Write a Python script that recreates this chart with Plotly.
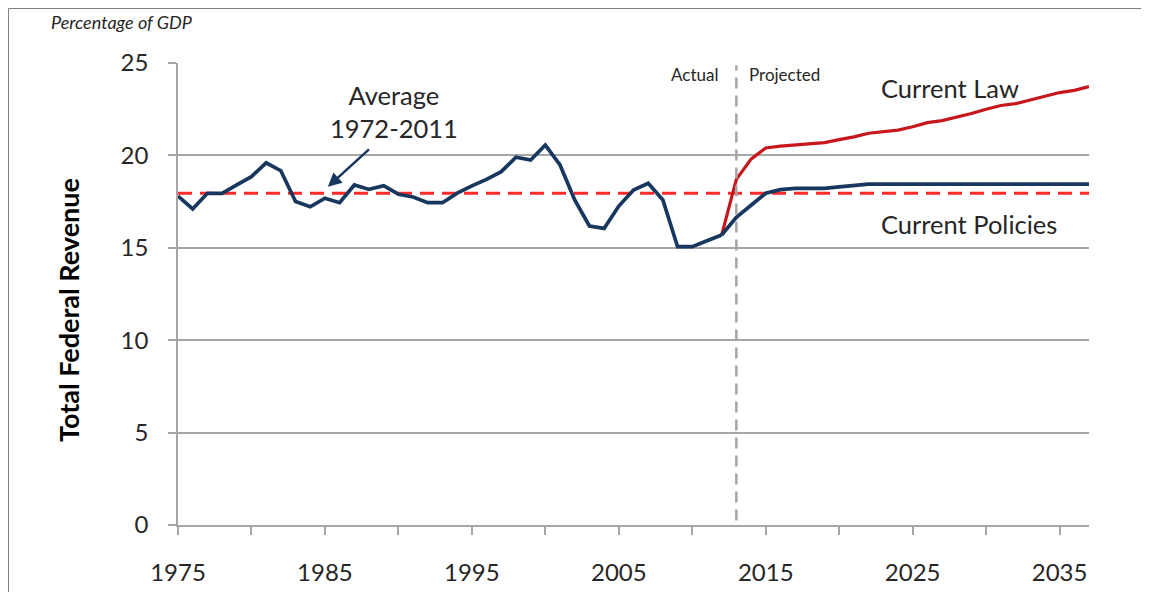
import plotly.graph_objects as go

# ---- data ----
actual_years = list(range(1975, 2013))
actual_vals = [17.8, 17.1, 17.95, 17.95, 18.4, 18.85, 19.6, 19.17, 17.5, 17.22,
               17.68, 17.44, 18.4, 18.16, 18.36, 17.9, 17.75, 17.44, 17.44, 17.96,
               18.35, 18.7, 19.12, 19.9, 19.75, 20.56, 19.48, 17.59, 16.18, 16.05,
               17.26, 18.13, 18.49, 17.59, 15.06, 15.06, 15.38, 15.69]

proj_years = list(range(2012, 2038))
current_law = [15.69, 18.7, 19.8, 20.4, 20.5, 20.56, 20.63, 20.69, 20.85, 21.0,
               21.2, 21.28, 21.37, 21.55, 21.77, 21.88, 22.07, 22.27, 22.5, 22.7,
               22.8, 23.0, 23.2, 23.4, 23.52, 23.72]
current_policies = [15.69, 16.65, 17.3, 17.95, 18.15, 18.22, 18.22, 18.22, 18.3, 18.38,
                    18.45, 18.45, 18.45, 18.45, 18.45, 18.45, 18.45, 18.45, 18.45, 18.45,
                    18.45, 18.45, 18.45, 18.45, 18.45, 18.45]

avg_years = [1975, 2037]
avg_vals = [17.95, 17.95]

x_tickvals = list(range(1975, 2040, 5))
x_ticktext = [str(v) if (v - 1975) % 10 == 0 else "" for v in x_tickvals]
y_tickvals = [0, 5, 10, 15, 20, 25]
split_year = 2013

BLUE = "#17375E"
RED = "#C8161D"
AVG_RED = "#FF2A2A"
GRAY = "#A6A6A6"
TXT = "#262626"
FONT = "Lato, Open Sans, sans-serif"

# layout geometry (figure pixels; page body adds an 8px offset)
W, H = 1141, 584
ML, MR, MT, MB = 170, 60, 55, 67
PW, PH = W - ML - MR, H - MT - MB


def px_x(p):
    return (p - ML) / PW


def px_y(p):
    return 1 - (p - MT) / PH


fig = go.Figure()
fig.add_trace(go.Scatter(x=avg_years, y=avg_vals, mode="lines",
                         line=dict(color=AVG_RED, width=3, dash="14px,8px"),
                         showlegend=False, hoverinfo="skip"))
fig.add_trace(go.Scatter(x=proj_years, y=current_law, mode="lines",
                         line=dict(color=RED, width=3.2), name="Current Law", showlegend=False))
fig.add_trace(go.Scatter(x=proj_years, y=current_policies, mode="lines",
                         line=dict(color=BLUE, width=3.7), name="Current Policies", showlegend=False))
fig.add_trace(go.Scatter(x=actual_years, y=actual_vals, mode="lines",
                         line=dict(color=BLUE, width=3.7), name="Actual", showlegend=False))

# vertical split line
fig.add_shape(type="line", xref="x", yref="paper", x0=split_year, x1=split_year,
              y0=0.01, y1=0.995, line=dict(color=GRAY, width=2.5, dash="11px,7px"))

# outer frame
fig.add_shape(type="rect", xref="paper", yref="paper",
              x0=px_x(0.5), x1=px_x(1135), y0=-0.4, y1=px_y(0.5),
              line=dict(color="#7f7f7f", width=1), fillcolor="rgba(0,0,0,0)", layer="below")

ann = []
ann.append(dict(x=1989.7, y=22.4, xref="x", yref="y", text="Average<br>1972-2011",
                showarrow=False, font=dict(size=25.5, color=TXT, family=FONT)))
ann.append(dict(x=1985.2, y=18.3, ax=1988.1, ay=20.4, xref="x", yref="y", axref="x", ayref="y",
                text="", showarrow=True, arrowhead=2, arrowsize=1.1, arrowwidth=2.5,
                arrowcolor=BLUE))
ann.append(dict(x=2022.7, y=23.65, xref="x", yref="y", text="Current Law", xanchor="left",
                showarrow=False, font=dict(size=25.5, color=TXT, family=FONT)))
ann.append(dict(x=2022.7, y=16.3, xref="x", yref="y", text="Current Policies", xanchor="left",
                showarrow=False, font=dict(size=25.5, color=TXT, family=FONT)))
ann.append(dict(x=2011.9, y=24.4, xref="x", yref="y", text="Actual", xanchor="right",
                showarrow=False, font=dict(size=17, color=TXT, family=FONT)))
ann.append(dict(x=2013.7, y=24.4, xref="x", yref="y", text="Projected", xanchor="left",
                showarrow=False, font=dict(size=17, color=TXT, family=FONT)))
ann.append(dict(x=px_x(41), y=px_y(14), xref="paper", yref="paper", text="<i>Percentage of GDP</i>",
                xanchor="left", yanchor="middle", showarrow=False,
                font=dict(size=18, color=TXT, family=FONT)))
ann.append(dict(x=px_x(60), y=px_y(302), xref="paper", yref="paper",
                text="<b>Total Federal Revenue</b>", textangle=-90,
                xanchor="center", yanchor="middle",
                showarrow=False, font=dict(size=27, color="#000000", family=FONT)))

fig.update_layout(
    width=W, height=H,
    margin=dict(l=ML, r=MR, t=MT, b=MB),
    paper_bgcolor="white", plot_bgcolor="white",
    annotations=ann,
    font=dict(family=FONT, color=TXT),
    xaxis=dict(range=[1975, 2037], tickvals=x_tickvals, ticktext=x_ticktext, automargin=False,
               showgrid=False, zeroline=False, showline=True, linecolor=GRAY, linewidth=2,
               ticks="outside", ticklen=8, tickcolor=GRAY, tickwidth=1.5,
               ticklabelstandoff=17, tickfont=dict(size=24, family=FONT, color=TXT)),
    yaxis=dict(range=[0, 25], tickvals=y_tickvals, automargin=False,
               showgrid=True, gridcolor=GRAY, gridwidth=1.5,
               zeroline=False, showline=True, linecolor=GRAY, linewidth=1.5,
               ticks="outside", ticklen=8, tickcolor=GRAY, tickwidth=1.5,
               ticklabelstandoff=15, tickfont=dict(size=24, family=FONT, color=TXT)),
)

fig.write_html("out.html")
